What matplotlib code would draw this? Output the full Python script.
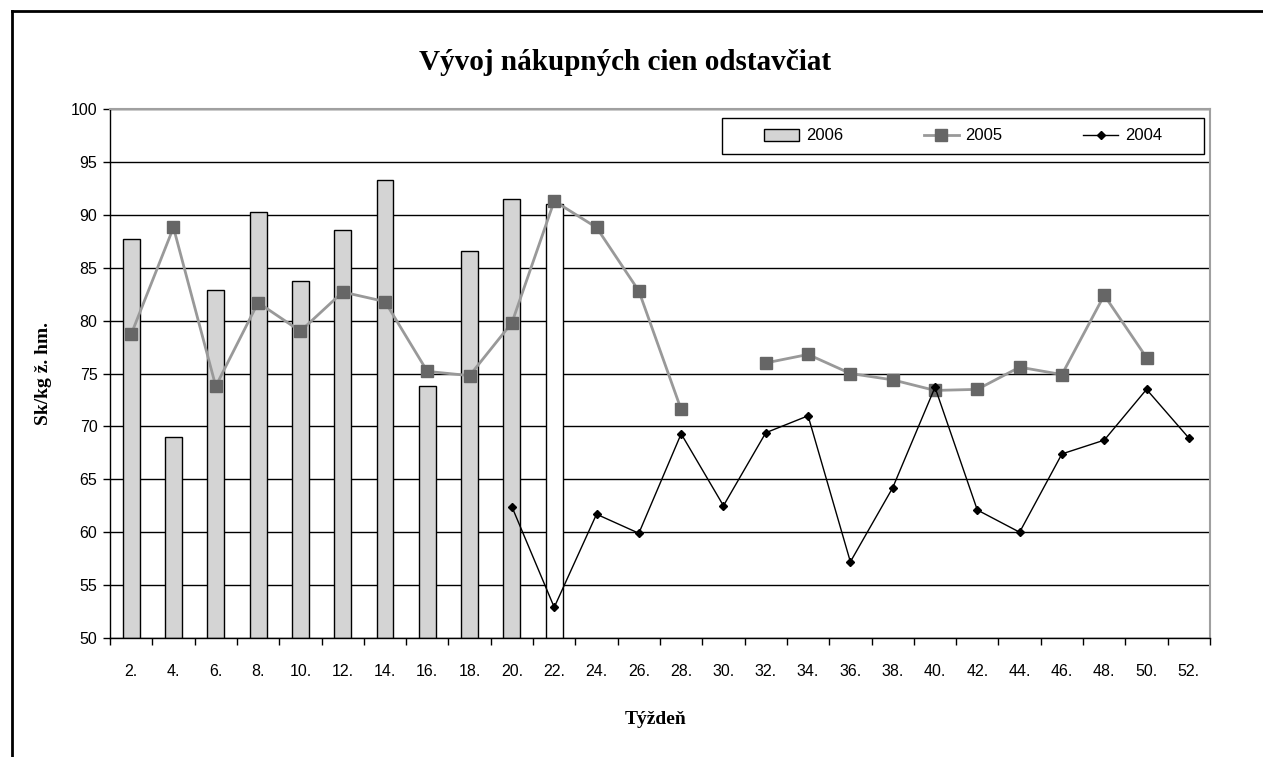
import numpy as np
import matplotlib
matplotlib.use("Agg")
import matplotlib.pyplot as plt
from matplotlib.lines import Line2D
from matplotlib.patches import Rectangle

weeks = ["2.", "4.", "6.", "8.", "10.", "12.", "14.", "16.", "18.", "20.", "22.", "24.", "26.",
         "28.", "30.", "32.", "34.", "36.", "38.", "40.", "42.", "44.", "46.", "48.", "50.", "52."]
nan = np.nan
y2006 = [87.7, 69.0, 82.9, 90.3, 83.7, 88.6, 93.3, 73.8, 86.6, 91.5, 91.0]
y2005 = [78.7, 88.8, 73.8, 81.7, 79.0, 82.7, 81.8, 75.2, 74.8, 79.8, 91.3, 88.8, 82.8,
         71.6, nan, 76.0, 76.8, 75.0, 74.4, 73.4, 73.5, 75.6, 74.9, 82.4, 76.5, nan]
y2004 = [nan, nan, nan, nan, nan, nan, nan, nan, nan, 62.4, 52.9, 61.7, 59.9,
         69.3, 62.5, 69.4, 71.0, 57.2, 64.2, 73.7, 62.1, 60.0, 67.4, 68.7, 73.5, 68.9]
yticks = [50, 55, 60, 65, 70, 75, 80, 85, 90, 95, 100]

W, H = 1263, 757
fig = plt.figure(figsize=(W / 100, H / 100), dpi=100)
fig.patch.set_facecolor("white")

# outer chart frame
fig.add_artist(Line2D([12 / W, 12 / W], [0, 1 - 11 / H], transform=fig.transFigure, color="black", lw=2))
fig.add_artist(Line2D([12 / W, 1.0], [1 - 11 / H, 1 - 11 / H], transform=fig.transFigure, color="black", lw=2))

ax = fig.add_axes([110 / W, (H - 638) / H, (1210 - 110) / W, (638 - 109) / H])

x = np.arange(len(weeks))
bar_colors = ["#D4D4D4"] * (len(y2006) - 1) + ["white"]
b = ax.bar(x[:len(y2006)], np.array(y2006) - 50, bottom=50, width=0.4, color=bar_colors,
           edgecolor="black", linewidth=1.0, zorder=2)

l5, = ax.plot(x, y2005, color="#999999", lw=2, marker="s", markersize=8,
              markerfacecolor="#666666", markeredgecolor="#666666", zorder=3)
l4, = ax.plot(x, y2004, color="black", lw=1, marker="D", markersize=4,
              markerfacecolor="black", markeredgecolor="black", zorder=4)

ax.set_xlim(-0.5, len(weeks) - 0.5)
ax.set_ylim(50, 100)
ax.set_yticks(yticks)
ax.set_yticklabels([str(v) for v in yticks], fontfamily="Liberation Sans", fontsize=11.5)
ax.set_xticks(x)
ax.set_xticklabels(weeks, fontfamily="Liberation Sans", fontsize=11.5)
ax.set_xticks(np.arange(-0.5, len(weeks), 1.0), minor=True)
ax.tick_params(axis="x", which="major", length=0, pad=19)
ax.tick_params(axis="x", which="minor", length=5, direction="out", width=1)
ax.tick_params(axis="y", length=5, direction="out", width=1, pad=4)

ax.yaxis.grid(True, color="black", lw=1)
ax.set_axisbelow(True)
for s in ["top", "right"]:
    ax.spines[s].set_color("#A0A0A0")
    ax.spines[s].set_linewidth(1.5)
for s in ["left", "bottom"]:
    ax.spines[s].set_color("black")
    ax.spines[s].set_linewidth(1)

fig.text(625 / W, 1 - 63 / H, "Vývoj nákupných cien odstavčiat", ha="center", va="center",
         fontfamily="Liberation Serif", fontweight="bold", fontsize=21)
fig.text(656 / W, 1 - 720 / H, "Týždeň", ha="center", va="center",
         fontfamily="Liberation Serif", fontweight="bold", fontsize=14)
fig.text(44 / W, 1 - 374 / H, "Sk/kg ž. hm.", ha="center", va="center", rotation=90,
         fontfamily="Liberation Serif", fontweight="bold", fontsize=14)

# legend frame
fig.add_artist(Rectangle((722 / W, 1 - 154 / H), (1204 - 722) / W, 36 / H,
                         transform=fig.transFigure, facecolor="white", edgecolor="black",
                         lw=1, zorder=5))
leg = fig.legend([b, l5, l4], ["2006", "2005", "2004"], loc="center",
                 bbox_to_anchor=(963 / W, 1 - 136 / H), ncol=3, frameon=False,
                 handlelength=2.1, handletextpad=0.4, columnspacing=4.85,
                 prop={"family": "Liberation Sans", "size": 12})
leg.set_zorder(6)

fig.savefig("out.png", dpi=100)
